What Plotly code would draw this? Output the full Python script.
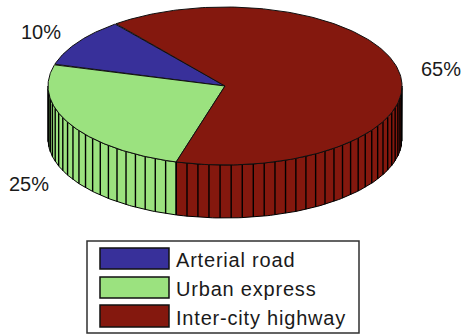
import numpy as np
import plotly.graph_objects as go

categories = ["Arterial road", "Urban express", "Inter-city highway"]
shares = [10, 25, 65]
labels = ["10%", "25%", "65%"]
colors = ["#38309A", "#9BE27F", "#84180E"]

W, H = 462, 336
cx, cy, rx, ry, depth = 225, 86, 177, 79, 53
start = 38.0


def rim(a):
    a = np.radians(a)
    return cx - rx * np.sin(a), cy - ry * np.cos(a)


fig = go.Figure()
edges = start + np.cumsum([0] + shares) * 3.6

# side wall (visible on the front half only)
for i in range(3):
    lo, hi = max(edges[i], 90), min(edges[i + 1], 270)
    if hi <= lo:
        continue
    t = np.linspace(lo, hi, 90)
    x, y = rim(t)
    fig.add_trace(go.Scatter(
        x=np.r_[x, x[::-1], x[0]], y=np.r_[y, y[::-1] + depth, y[0]],
        mode="lines", fill="toself", fillcolor=colors[i],
        line=dict(color="#000000", width=1), hoverinfo="skip", showlegend=False))

# ribs every 1 %
rx_list, ry_list = [], []
for p in range(0, 100):
    a = start + p * 3.6
    a = (a - 90) % 360 + 90
    if 90 <= a <= 270:
        px, py = rim(a)
        rx_list += [px, px, None]
        ry_list += [py, py + depth, None]
fig.add_trace(go.Scatter(x=rx_list, y=ry_list, mode="lines",
                         line=dict(color="#000000", width=1.4),
                         hoverinfo="skip", showlegend=False))

# top wedges
for i in range(3):
    t = np.linspace(edges[i], edges[i + 1], 200)
    x, y = rim(t)
    fig.add_trace(go.Scatter(
        x=np.r_[cx, x, cx], y=np.r_[cy, y, cy],
        mode="lines", fill="toself", fillcolor=colors[i],
        line=dict(color="#101010", width=1), hoverinfo="skip", showlegend=False))

fig.add_annotation(x=41, y=32, text=labels[0], showarrow=False)
fig.add_annotation(x=29, y=184, text=labels[1], showarrow=False)
fig.add_annotation(x=441, y=69, text=labels[2], showarrow=False)

# legend box
fig.add_shape(type="rect", x0=87, x1=359, y0=241, y1=333,
              line=dict(color="#303030", width=1.5), fillcolor="white")
sw_y = [(248, 269), (277, 298), (305, 327)]
for c, cat, (y0, y1) in zip(colors, categories, sw_y):
    fig.add_shape(type="rect", x0=100, x1=169, y0=y0, y1=y1,
                  line=dict(color="#101010", width=1.5), fillcolor=c)
    fig.add_annotation(x=175, y=(y0 + y1) / 2 + 1.5, text=cat, showarrow=False,
                       xanchor="left", font=dict(size=20))

fig.update_layout(
    width=W, height=H, margin=dict(l=0, r=0, t=0, b=0),
    paper_bgcolor="white", plot_bgcolor="white",
    font=dict(family="Liberation Sans, Arial, sans-serif", size=20, color="#1a1a1a"),
    xaxis=dict(range=[0, W], visible=False, fixedrange=True),
    yaxis=dict(range=[H, 0], visible=False, fixedrange=True),
    showlegend=False,
)
js = """document.body.style.margin='0';document.body.style.overflow='hidden';
document.querySelectorAll('.annotation-text').forEach(function(t){
  if(t.textContent.indexOf('%')<0){
    var x=t.getBBox().x;
    t.style.letterSpacing='0.8px';
    t.setAttribute('text-anchor','start');
    t.setAttribute('x',x-1);
  }
});"""
fig.write_html("out.html", config=dict(displayModeBar=False), post_script=js)
